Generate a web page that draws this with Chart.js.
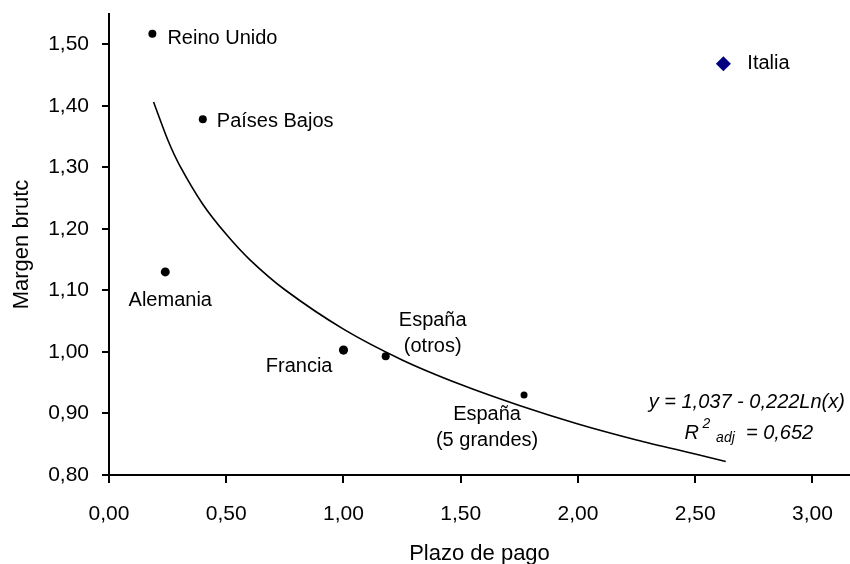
<!DOCTYPE html>
<html>
<head>
<meta charset="utf-8">
<script src="https://cdn.jsdelivr.net/npm/chart.js@4.4.0/dist/chart.umd.min.js"></script>
<style>
  html, body { margin: 0; padding: 0; background: #fff; }
  #wrap { width: 850px; height: 564px; position: relative; }
</style>
</head>
<body>
<div id="wrap"><canvas id="chart"></canvas></div>
<script>
// data
const paises = ['Reino Unido', 'Países Bajos', 'Alemania', 'Francia', ['España', '(otros)'], ['España', '(5 grandes)']];
const plazo = [0.185, 0.40, 0.24, 1.00, 1.18, 1.77];
const margen = [1.517, 1.378, 1.130, 1.003, 0.993, 0.930];

const italiaNombre = 'Italia';
const italiaPlazo = [2.62];
const italiaMargen = [1.468];

// fitted curve, points
const curvaX = [0.19, 0.25, 0.30, 0.40, 0.50, 0.60, 0.75, 1.00, 1.25, 1.50, 1.75, 2.00, 2.25, 2.50, 2.63];
const curvaY = [1.406, 1.345, 1.304, 1.240, 1.191, 1.150, 1.101, 1.037, 0.987, 0.947, 0.913, 0.883, 0.857, 0.834, 0.822];

const xTicks = [0, 0.5, 1, 1.5, 2, 2.5, 3];
const yTicks = [0.8, 0.9, 1.0, 1.1, 1.2, 1.3, 1.4, 1.5];

const ecuacion = 'y = 1,037 - 0,222Ln(x)';
const r2 = '0,652';

// label placement relative to each point (px)
const labelPos = [
  { dx: 15, dy: 5, align: 'left' },
  { dx: 14, dy: 2, align: 'left' },
  { dx: 5, dy: 29, align: 'center' },
  { dx: -11, dy: 16, align: 'right' },
  { dx: 47, dy: -36, align: 'center' },
  { dx: -37, dy: 19, align: 'center' }
];

const FONT = '"Liberation Sans", Arial, sans-serif';
const comma = v => v.toFixed(2).replace('.', ',');

const labelsPlugin = {
  id: 'labels',
  afterDatasetsDraw(chart) {
    const ctx = chart.ctx;
    ctx.save();
    ctx.fillStyle = '#000';
    ctx.textBaseline = 'middle';
    ctx.font = '20px ' + FONT;
    const pts = chart.getDatasetMeta(1).data;
    pts.forEach((p, i) => {
      const lp = labelPos[i];
      ctx.textAlign = lp.align;
      const lines = Array.isArray(paises[i]) ? paises[i] : [paises[i]];
      lines.forEach((t, k) => ctx.fillText(t, p.x + lp.dx, p.y + lp.dy + k * 26));
    });
    const it = chart.getDatasetMeta(2).data[0];
    ctx.textAlign = 'left';
    ctx.fillText(italiaNombre, it.x + 24, it.y);

    // equation text
    const cx = chart.scales.x.getPixelForValue(2.72);
    const y1 = chart.scales.y.getPixelForValue(0.918);
    const big = 'italic 20px ' + FONT, small = 'italic 14px ' + FONT;
    ctx.font = big;
    ctx.textAlign = 'center';
    ctx.fillText(ecuacion, cx, y1);
    const y2 = y1 + 31;
    ctx.font = big; const wR = ctx.measureText('R ').width;
    ctx.font = small; const w2 = ctx.measureText('2 ').width; const wAdj = ctx.measureText('adj').width;
    ctx.font = big; const wEq = ctx.measureText('  = ' + r2).width;
    let x = cx - (wR + w2 + wAdj + wEq) / 2 + 2;
    ctx.textAlign = 'left';
    ctx.font = big; ctx.fillText('R', x, y2); x += wR - 2;
    ctx.font = small; ctx.fillText('2', x, y2 - 9); x += w2 + 2;
    ctx.fillText('adj', x, y2 + 5); x += wAdj;
    ctx.font = big; ctx.fillText('  = ' + r2, x, y2);
    ctx.restore();
  }
};

new Chart(document.getElementById('chart'), {
  type: 'scatter',
  data: {
    datasets: [
      {
        label: 'curva',
        data: curvaX.map((x, i) => ({ x: x, y: curvaY[i] })),
        showLine: true,
        borderColor: '#000',
        borderWidth: 1.6,
        pointRadius: 0,
        tension: 0.3,
        fill: false
      },
      {
        label: 'paises',
        data: plazo.map((x, i) => ({ x: x, y: margen[i] })),
        backgroundColor: '#000',
        borderColor: '#000',
        borderWidth: 0,
        pointRadius: [4, 4, 4.5, 4.6, 4, 3.5]
      },
      {
        label: italiaNombre,
        data: italiaPlazo.map((x, i) => ({ x: x, y: italiaMargen[i] })),
        pointStyle: 'rectRot',
        backgroundColor: '#000080',
        borderColor: '#000080',
        borderWidth: 0,
        pointRadius: 7.5
      }
    ]
  },
  options: {
    responsive: true,
    maintainAspectRatio: false,
    animation: false,
    layout: { autoPadding: false, padding: { top: 14, right: 0, left: 0, bottom: 0 } },
    plugins: { legend: { display: false }, tooltip: { enabled: false } },
    scales: {
      x: {
        type: 'linear',
        min: 0,
        max: 3.16,
        afterBuildTicks: s => { s.ticks = xTicks.map(v => ({ value: v })); },
        afterFit: s => { s.height = 89; s.paddingLeft = 0; s.paddingRight = 0; },
        border: { color: '#000', width: 2 },
        grid: { drawOnChartArea: false, drawTicks: true, tickLength: 8, color: '#000', lineWidth: 2 },
        ticks: { color: '#000', font: { family: FONT, size: 21 }, padding: 19, maxRotation: 0, callback: v => comma(v) },
        title: { display: true, text: 'Plazo de pago', color: '#000', font: { family: FONT, size: 22 }, padding: { top: 0, bottom: -3 } }
      },
      y: {
        type: 'linear',
        min: 0.8,
        max: 1.549,
        afterBuildTicks: s => { s.ticks = yTicks.map(v => ({ value: v })); },
        afterFit: s => { s.width = 109; s.paddingTop = 0; s.paddingBottom = 0; },
        border: { color: '#000', width: 2 },
        grid: { drawOnChartArea: false, drawTicks: true, tickLength: 7, color: '#000', lineWidth: 2 },
        ticks: { color: '#000', font: { family: FONT, size: 21 }, padding: 13, callback: v => comma(v) },
        title: { display: true, text: 'Margen brutc', color: '#000', font: { family: FONT, size: 22 }, padding: { top: 9, bottom: 0 } }
      }
    }
  },
  plugins: [labelsPlugin]
});
</script>
</body>
</html>
